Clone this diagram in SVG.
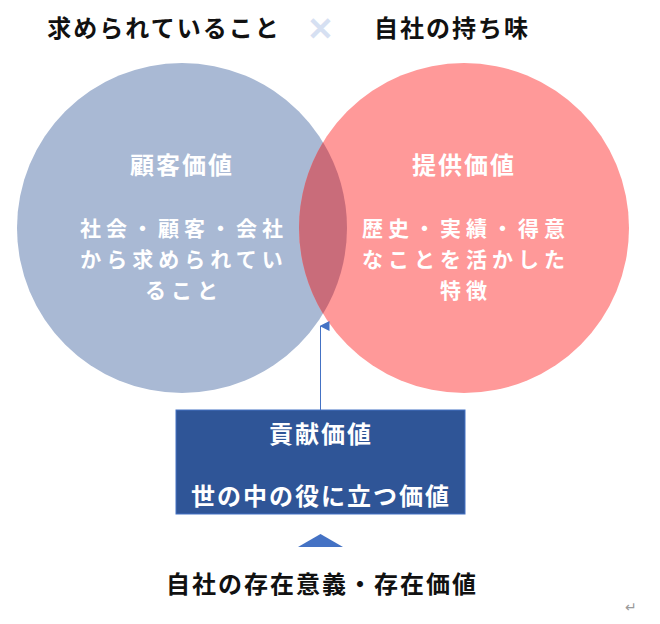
<svg xmlns="http://www.w3.org/2000/svg" width="660" height="624" viewBox="0 0 660 624">
<style>
text{font-family:"Noto Sans CJK JP","Noto Sans",sans-serif;font-weight:bold;font-size:24px;letter-spacing:2px;text-anchor:middle;dominant-baseline:central}
.w{fill:#ffffff}
.c{font-size:21px;letter-spacing:5px}
.k{fill:#111111}
</style>
<defs>
<marker id="ah" markerWidth="10" markerHeight="10" refX="5" refY="1" orient="auto-start-reverse" markerUnits="userSpaceOnUse" viewBox="0 0 10 10">
<path d="M0,10 L5,0 L10,10 Z" fill="#4472C4"/>
</marker>
</defs>
<rect width="660" height="624" fill="#ffffff"/>
<g id="title">
<text class="k" x="164" y="26">求められていること</text>
<text x="320" y="26" style="fill:#D6E0F2;font-weight:bold;font-size:32px;letter-spacing:0">✕</text>
<text class="k" x="452" y="26">自社の持ち味</text>
</g>
<g id="customer">
<circle cx="182" cy="228" r="165" fill="#A9B9D4"/>
</g>
<g id="provider">
<circle cx="464" cy="228" r="165" fill="#FF9999"/>
</g>
<path d="M323,142.3 A165,165 0 0 1 323,313.7 A165,165 0 0 1 323,142.3 Z" fill="#C96C7A"/>
<g id="customer-text">
<text class="w" x="182" y="163">顧客価値</text>
<text class="w c" x="184" y="227">社会・顧客・会社</text>
<text class="w c" x="184" y="258">から求められてい</text>
<text class="w c" x="184" y="289">ること</text>
</g>
<g id="provider-text">
<text class="w" x="464" y="163">提供価値</text>
<text class="w c" x="466" y="227">歴史・実績・得意</text>
<text class="w c" x="466" y="258">なことを活かした</text>
<text class="w c" x="466" y="289">特徴</text>
</g>
<g id="connectors">
<line x1="320.5" y1="410" x2="320.5" y2="326" stroke="#4472C4" stroke-width="1" marker-end="url(#ah)"/>
</g>
<g id="contribution">
<rect x="176" y="410" width="289" height="104" fill="#2F5597" stroke="#4472C4" stroke-width="1"/>
<text class="w" x="321" y="432">貢献価値</text>
<text class="w" x="321" y="494">世の中の役に立つ価値</text>
</g>
<g id="base">
<polygon points="298,547 320.5,534 343,547" fill="#4472C4"/>
<text class="k" x="322" y="582">自社の存在意義・存在価値</text>
</g>
<text x="631" y="606" style="fill:#9a9a9a;font-weight:normal;font-size:14px;letter-spacing:0">↵</text>
</svg>
